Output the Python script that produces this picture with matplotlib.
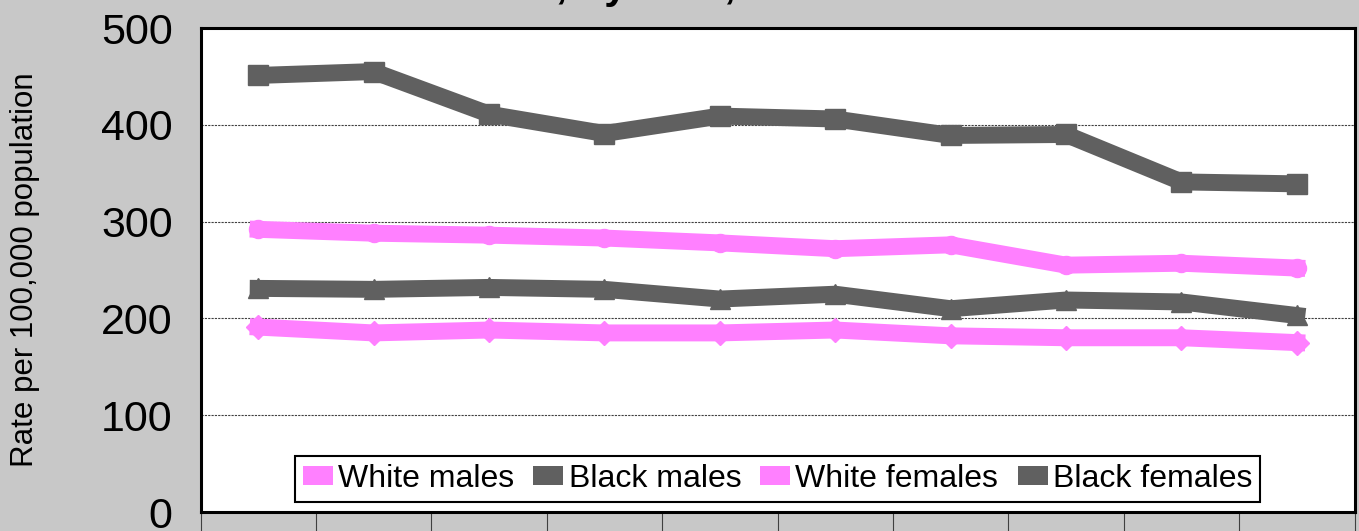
import matplotlib
matplotlib.use("Agg")
import matplotlib.pyplot as plt
from matplotlib.patches import Patch

plt.rcParams['font.family'] = ['Liberation Sans', 'DejaVu Sans']

# ---- data ----
years = list(range(1, 11))  # ten unlabeled periods
series_names = ["White males", "Black males", "White females", "Black females"]
white_males = [292, 288, 286, 283, 278, 272, 276, 255, 257, 252]
black_males = [451, 455, 411, 391, 409, 406, 389, 390, 341, 339]
white_females = [191, 185, 188, 185, 185, 188, 182, 180, 180, 175]
black_females = [231, 230, 232, 230, 220, 225, 210, 219, 217, 203]
y_ticks = [0, 100, 200, 300, 400, 500]
y_label = "Rate per 100,000 population"
title = "Cancer Death Rates, by Year, Race and Sex"

PINK = "#ff80ff"
GRAY = "#606060"
BG = "#c8c8c8"

fig = plt.figure(figsize=(13.59, 5.31), dpi=100, facecolor=BG)
ax = fig.add_axes([200.5 / 1359, 19 / 531, 1154 / 1359, 484 / 531])
ax.set_facecolor("white")

xs = [i - 0.5 for i in years]
lw = 12.2
ax.plot(xs, black_males, color=GRAY, lw=lw, marker="s", ms=14.5, zorder=3,
        solid_joinstyle="miter")
ax.plot(xs, white_males, color=PINK, lw=lw, marker="o", ms=13, zorder=3,
        solid_joinstyle="miter")
ax.plot(xs, black_females, color=GRAY, lw=lw, marker="^", ms=15, zorder=3,
        solid_joinstyle="miter")
ax.plot(xs, white_females, color=PINK, lw=lw, marker="D", ms=12, zorder=3,
        solid_joinstyle="miter")

ax.set_xlim(0, 10)
ax.set_ylim(0, 500)
ax.set_yticks(y_ticks)
ax.set_yticklabels([str(v) for v in y_ticks], fontsize=31)
ax.set_xticks(range(0, 11))
ax.set_xticklabels([])
ax.tick_params(axis="y", length=0, pad=20)
ax.tick_params(axis="x", length=15, width=0.8, color="#404040", direction="out")

for v in y_ticks[1:-1]:
    ax.axhline(v, color="#404040", lw=0.8, ls=(0, (2, 1)), zorder=1)

for sp in ax.spines.values():
    sp.set_linewidth(2.2)
    sp.set_color("black")
    sp.set_zorder(5)

handles = [Patch(facecolor=c, edgecolor="none") for c in (PINK, GRAY, PINK, GRAY)]
leg = ax.legend(handles, series_names, loc="center", bbox_to_anchor=(0.5, 0.068),
                ncol=4, fontsize=23, handlelength=0.94, handleheight=0.53,
                handletextpad=0.16, columnspacing=0.6, borderpad=0.25,
                fancybox=False, framealpha=1, edgecolor="black")
leg.get_frame().set_linewidth(1.5)
leg.set_zorder(6)

fig.text(25 / 1359, 1 - 270 / 531, y_label, rotation=90, ha="center",
         va="center", fontsize=22.5)
fig.text(590 / 1359, 1.003, title, ha="center", va="baseline", fontsize=30,
         fontweight="bold")

fig.savefig("out.png", dpi=100, facecolor=BG)
